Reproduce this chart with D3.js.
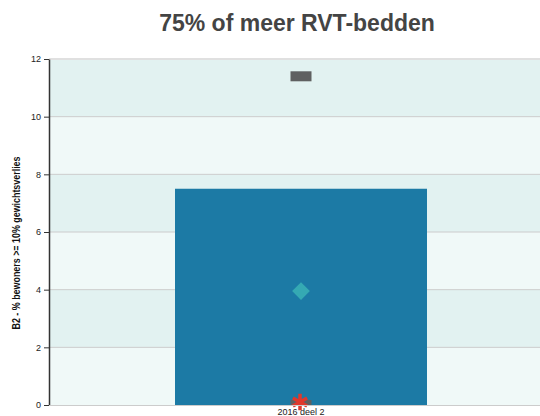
<!DOCTYPE html>
<html>
<head>
<meta charset="utf-8">
<script src="https://cdn.jsdelivr.net/npm/d3@7"></script>
<style>
  body { margin: 0; background: #fff; }
  svg { display: block; }
</style>
</head>
<body>
<svg id="s" width="540" height="416"></svg>
<script>
const categories = ['2016 deel 2'];
const barValues = [7.5];
const maxValues = [11.4];
const meanValues = [3.95];
const minValues = [0];
const ownValues = [0];
const yTicks = [0, 2, 4, 6, 8, 10, 12];

const svg = d3.select('#s');
const m = { left: 49, top: 59, right: -13, bottom: 11 };
const W = 540, H = 416;

const x = d3.scaleBand()
  .domain(categories)
  .range([m.left, W - m.right])
  .padding(1 / 3);
const y = d3.scaleLinear()
  .domain([0, 12])
  .range([H - m.bottom, m.top]);

svg.append('defs').append('clipPath').attr('id', 'plot')
  .append('rect')
  .attr('x', m.left).attr('y', m.top)
  .attr('width', W - m.right - m.left).attr('height', y(0) - m.top + 1);

// alternating bands
svg.append('g').selectAll('rect')
  .data(d3.pairs(yTicks))
  .enter()
  .append('rect')
  .attr('x', m.left)
  .attr('width', W - m.right - m.left)
  .attr('y', d => y(d[1]))
  .attr('height', d => y(d[0]) - y(d[1]))
  .attr('fill', (d, i) => i % 2 ? '#e2f2f1' : '#f0f9f8');

// grid
svg.append('g').selectAll('line')
  .data(yTicks.slice(1))
  .enter()
  .append('line')
  .attr('x1', m.left).attr('x2', W)
  .attr('y1', d => y(d)).attr('y2', d => y(d))
  .attr('stroke', d => d === 12 ? '#e0e0e0' : '#cccccc')
  .attr('stroke-width', d => d === 12 ? 2 : 1);

// bar
svg.append('g').selectAll('rect')
  .data(barValues)
  .enter()
  .append('rect')
  .attr('x', (v, i) => x(categories[i]))
  .attr('width', x.bandwidth())
  .attr('y', v => y(v))
  .attr('height', v => y(0) - y(v))
  .attr('fill', '#1c7aa5');

const cx = i => x(categories[i]) + x.bandwidth() / 2;

// min / max markers
const dash = svg.append('g').attr('clip-path', 'url(#plot)');
dash.selectAll('rect')
  .data(maxValues.map((v, i) => ({ v, i })).concat(minValues.map((v, i) => ({ v, i }))))
  .enter()
  .append('rect')
  .attr('x', d => cx(d.i) - 10.5)
  .attr('y', d => y(d.v) - 5)
  .attr('width', 21)
  .attr('height', 10)
  .attr('fill', '#5f6061');

// mean diamond
svg.append('g').selectAll('path')
  .data(meanValues)
  .enter()
  .append('path')
  .attr('d', d3.symbol(d3.symbolDiamond2, 200))
  .attr('transform', (v, i) => `translate(${cx(i)},${y(v)})`)
  .attr('fill', '#35a9b3');

// own value asterisk
svg.append('g').selectAll('path')
  .data(ownValues)
  .enter()
  .append('path')
  .attr('d', d3.symbol(d3.symbolAsterisk, 190))
  .attr('transform', (v, i) => `translate(${cx(i) - 1},${y(v) - 3})`)
  .attr('fill', 'none')
  .attr('stroke', '#e0382c')
  .attr('stroke-width', 3.5);

// y axis
const ya = svg.append('g')
  .attr('transform', `translate(${m.left},0)`)
  .call(d3.axisLeft(y).tickValues(yTicks).tickSize(5).tickPadding(3).tickSizeOuter(0));
ya.select('.domain').attr('stroke', '#333').attr('stroke-width', 1.5);
ya.selectAll('.tick line').attr('stroke', '#333');
ya.selectAll('.tick text')
  .attr('fill', '#222')
  .style('font', '9px "Liberation Sans", Arial, sans-serif');

// x axis labels
svg.append('g').selectAll('text')
  .data(categories)
  .enter()
  .append('text')
  .attr('x', (c, i) => cx(i))
  .attr('y', y(0) + 10)
  .attr('text-anchor', 'middle')
  .attr('fill', '#222')
  .style('font', '9px "Liberation Sans", Arial, sans-serif')
  .text(c => c);

// baseline
svg.append('line')
  .attr('x1', m.left).attr('x2', W)
  .attr('y1', y(0) + 0.5).attr('y2', y(0) + 0.5)
  .attr('stroke', '#cccccc');

// y title
svg.append('text')
  .attr('transform', `translate(20,${(y(0) + y(12)) / 2 + 11}) rotate(-90)`)
  .attr('text-anchor', 'middle')
  .attr('fill', '#111')
  .attr('textLength', 173)
  .attr('lengthAdjust', 'spacingAndGlyphs')
  .style('font', 'bold 10px "Liberation Sans Narrow", "Liberation Sans", sans-serif')
  .text('B2 - % bewoners >= 10% gewichtsverlies');

// title
svg.append('text')
  .attr('x', 297)
  .attr('y', 31)
  .attr('text-anchor', 'middle')
  .attr('fill', '#444')
  .style('font', 'bold 23px "Liberation Sans", Arial, sans-serif')
  .text('75% of meer RVT-bedden');
</script>
</body>
</html>
